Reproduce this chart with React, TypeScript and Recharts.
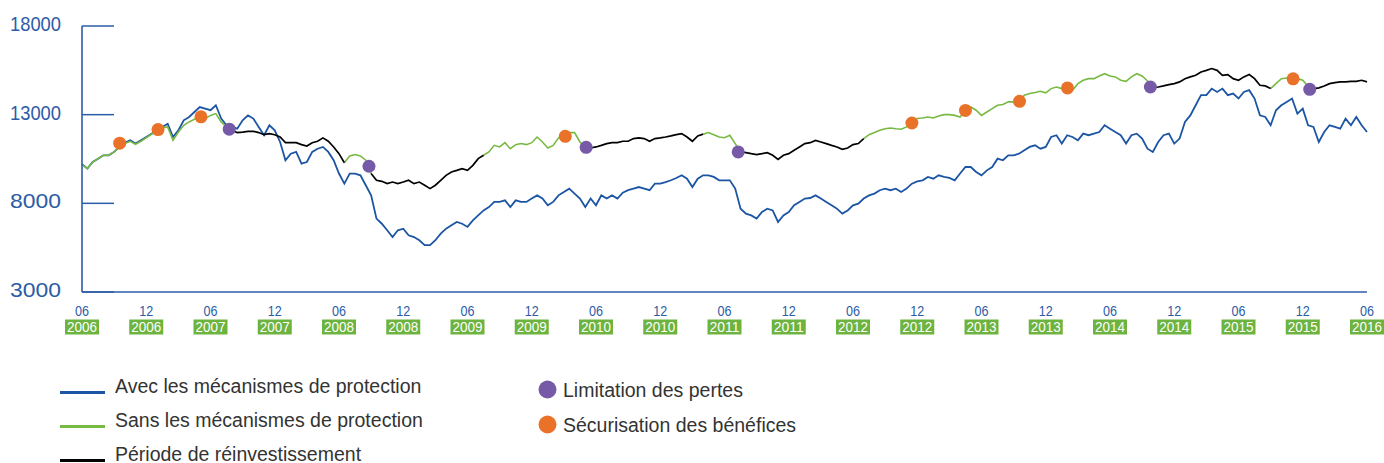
import React from "react";
import { ComposedChart, Line, Scatter, XAxis, YAxis } from "recharts";

// half-month steps from June 2006 (t = 0) to June 2016 (t = 120)
const blueValues = [
  10200, 9960, 10330, 10520, 10710, 10710, 10900, 11180, 11420, 11550,
  11370, 11550, 11740, 11930, 12120, 12310, 12490, 11740, 12120, 12680,
  12870, 13150, 13430, 13340, 13250, 13530, 12780, 12400, 12310, 12210,
  12680, 12960, 12780, 12310, 11840, 12400, 12120, 11460, 10430, 10800,
  10900, 10240, 10330, 10900, 11080, 11180, 10900, 10430, 9680, 9110,
  9680, 9680, 9580, 9020, 8450, 7140, 6850, 6480, 6100, 6480,
  6570, 6200, 6100, 5920, 5640, 5640, 5920, 6290, 6570, 6760,
  6950, 6850, 6670, 7040, 7320, 7600, 7790, 8080, 8080, 8170,
  7790, 8170, 8080, 8080, 8270, 8450, 8270, 7890, 8080, 8450,
  8640, 8830, 8550, 8270, 7790, 8270, 7890, 8450, 8270, 8450,
  8270, 8600, 8740, 8830, 8920, 8830, 8740, 9110, 9110, 9200,
  9300, 9430, 9580, 9390, 8920, 9390, 9580, 9580, 9490, 9300,
  9300, 9300, 8830, 7700, 7420, 7320, 7140, 7510, 7700, 7600,
  6950, 7320, 7510, 7890, 8080, 8270, 8300, 8450, 8270, 8080,
  7890, 7700, 7420, 7600, 7890, 7980, 8270, 8450, 8550, 8740,
  8830, 8740, 8830, 8640, 8830, 9110, 9240, 9300, 9490, 9390,
  9580, 9490, 9430, 9300, 9680, 10050, 10050, 9770, 9580, 9860,
  10050, 10520, 10430, 10710, 10710, 10800, 10990, 11180, 11270, 11080,
  11180, 11740, 11840, 11370, 11840, 11740, 11550, 11930, 11840, 11930,
  12020, 12400, 12210, 12020, 11840, 11370, 11840, 11930, 11650, 11080,
  10900, 11460, 11840, 11930, 11370, 11650, 12590, 12960, 13530, 14100,
  14100, 14470, 14280, 14470, 14100, 14190, 13910, 14280, 14380, 13910,
  12960, 12870, 12400, 13250, 13530, 13720, 13910, 13060, 13340, 12400,
  12310, 11460, 12020, 12400, 12310, 12210, 12780, 12400, 12870, 12400,
  12020,
];

const portfolioValues = [
  10200, 9960, 10330, 10520, 10710, 10710, 10900, 11180, 11380, 11500,
  11330, 11500, 11700, 11900, 12080, 12260, 12310, 11550, 12020, 12400,
  12590, 12740, 12870, 12780, 12960, 13060, 12590, 12310, 12120, 11990,
  12020, 12060, 12060, 11990, 11870, 11930, 11870, 11740, 11420, 11420,
  11420, 11310, 11230, 11420, 11500, 11690, 11500, 11180, 10800, 10290,
  10670, 10750, 10670, 10430, 9680, 9300, 9240, 9110, 9200, 9110,
  9200, 9300, 9110, 9200, 9020, 8830, 9020, 9300, 9580, 9770,
  9860, 9960, 9860, 10140, 10520, 10710, 10900, 11270, 11180, 11420,
  11080, 11310, 11370, 11310, 11420, 11740, 11460, 11120, 11270, 11690,
  11780, 11990, 11990, 11460, 11160, 11120, 11180, 11270, 11370, 11420,
  11420, 11500, 11500, 11650, 11690, 11650, 11500, 11650, 11690, 11740,
  11800, 11870, 11930, 11740, 11500, 11800, 11900, 11990, 11870, 11740,
  11700, 11840, 11370, 10900, 10860, 10800, 10750, 10800, 10860, 10710,
  10480, 10710, 10800, 10990, 11180, 11370, 11420, 11550, 11460, 11370,
  11270, 11180, 11050, 11120, 11310, 11370, 11650, 11870, 11990, 12120,
  12210, 12250, 12210, 12180, 12310, 12530, 12780, 12810, 12870, 12810,
  12930, 13000, 13000, 12960, 12870, 13230, 13430, 13250, 12960, 13150,
  13340, 13530, 13570, 13720, 13720, 13750, 14100, 14190, 14250, 14320,
  14230, 14470, 14560, 14470, 14520, 14380, 14750, 14940, 15030, 15030,
  15180, 15310, 15180, 15130, 14940, 14880, 15130, 15310, 15180, 14900,
  14510, 14560, 14620, 14690, 14750, 14850, 15030, 15130, 15220, 15410,
  15500, 15600, 15500, 15220, 15260, 15030, 14940, 15130, 15260, 15030,
  14660, 14620, 14470, 14750, 15030, 15070, 15030, 15030, 14940, 14600,
  14470, 14510, 14620, 14750, 14810, 14850, 14850, 14880, 14880, 14940,
  14850,
];

// months (from June 2006) during which the money sits in the reinvestment phase
const reinvestPeriods: [number, number][] = [
  [13.75, 24.5],
  [26.8, 37.9],
  [47.1, 58],
  [61.3, 73],
  [99.8, 111],
  [114.7, 120],
];

const lossMonths = [13.75, 26.8, 47.08, 61.28, 99.77, 114.65];
const lossValues = [12180, 10090, 11160, 10900, 14560, 14430];
const gainMonths = [3.52, 7.1, 11.11, 45.13, 77.5, 82.5, 87.55, 92.03, 113.1];
const gainValues = [11390, 12160, 12880, 11780, 12530, 13240, 13750, 14510, 15020];

const xTicks = [0, 6, 12, 18, 24, 30, 36, 42, 48, 54, 60, 66, 72, 78, 84, 90, 96, 102, 108, 114, 120];
const xTickMonths = ["06", "12", "06", "12", "06", "12", "06", "12", "06", "12", "06", "12", "06", "12", "06", "12", "06", "12", "06", "12", "06"];
const xTickYears = ["2006", "2006", "2007", "2007", "2008", "2008", "2009", "2009", "2010", "2010", "2011", "2011", "2012", "2012", "2013", "2013", "2014", "2014", "2015", "2015", "2016"];
const yTicks = [3000, 8000, 13000, 18000];

const lineLegend = [
  { label: "Avec les mécanismes de protection", color: "#1c55a3" },
  { label: "Sans les mécanismes de protection", color: "#78b943" },
  { label: "Période de réinvestissement", color: "#000000" },
];
const dotLegend = [
  { label: "Limitation des pertes", color: "#7659a7" },
  { label: "Sécurisation des bénéfices", color: "#ea7228" },
];

const AXIS_BLUE = "#2c5ca6";
// no condensed face is installed, so the axis numbers are squeezed with textLength
const NUM_FONT = "'Liberation Sans', Arial, sans-serif";
const TEXT_FONT = "'Liberation Sans', Arial, sans-serif";

const inReinvest = (t: number) => reinvestPeriods.some(([a, b]) => t >= a && t <= b);

const flags = portfolioValues.map((_, i) => inReinvest(i / 2));
const rows = blueValues.map((v, i) => {
  const black = flags[i];
  const touchesGreen = !black || (i > 0 && !flags[i - 1]) || (i < flags.length - 1 && !flags[i + 1]);
  return {
    t: i / 2,
    blue: v,
    green: touchesGreen ? portfolioValues[i] : null,
    black: black ? portfolioValues[i] : null,
  };
});

const lossData = lossMonths.map((t, i) => ({ t, v: lossValues[i] }));
const gainData = gainMonths.map((t, i) => ({ t, v: gainValues[i] }));

const XTick = (props: any) => {
  const { x, y, payload } = props;
  const i = xTicks.indexOf(payload.value);
  return (
    <g>
      <text
        x={x - 7}
        y={y + 24}
        textLength={14}
        lengthAdjust="spacingAndGlyphs"
        fill={AXIS_BLUE}
        fontSize={14.5}
        fontFamily={NUM_FONT}
      >
        {xTickMonths[i]}
      </text>
      <rect x={x - 17} y={y + 27.5} width={34} height={15} fill="#6db33f" />
      <text
        x={x - 15}
        y={y + 40}
        textLength={30}
        lengthAdjust="spacingAndGlyphs"
        fill="#ffffff"
        fontSize={15}
        fontFamily={NUM_FONT}
      >
        {xTickYears[i]}
      </text>
    </g>
  );
};

const YTick = (props: any) => {
  const { x, y, payload } = props;
  return (
    <g>
      <line x1={x} x2={x + 32} y1={y} y2={y} stroke={AXIS_BLUE} strokeWidth={1.5} />
      <text
        x={x - 72}
        y={y + 5}
        textLength={51}
        lengthAdjust="spacingAndGlyphs"
        fill={AXIS_BLUE}
        fontSize={20.5}
        fontFamily={NUM_FONT}
      >
        {payload.value}
      </text>
    </g>
  );
};

const Dot = (color: string) => (p: any) => <circle cx={p.cx} cy={p.cy} r={6.5} fill={color} />;

export default function App() {
  return (
    <div style={{ position: "absolute", left: 0, top: 0, width: 1384, height: 463, background: "#fff", overflow: "hidden" }}>
      <ComposedChart width={1384} height={342} data={rows} margin={{ top: 26, right: 17, bottom: 0, left: 0 }}>
        <XAxis
          dataKey="t"
          type="number"
          domain={[0, 120]}
          ticks={xTicks}
          interval={0}
          height={50}
          tickSize={0}
          tickMargin={0}
          tickLine={false}
          axisLine={{ stroke: AXIS_BLUE, strokeWidth: 1.6 }}
          tick={<XTick />}
        />
        <YAxis
          type="number"
          domain={[3000, 18000]}
          ticks={yTicks}
          width={82}
          tickSize={0}
          tickMargin={0}
          tickLine={false}
          axisLine={{ stroke: AXIS_BLUE, strokeWidth: 1.6 }}
          tick={<YTick />}
        />
        <Line dataKey="blue" stroke="#1c55a3" strokeWidth={1.8} dot={false} isAnimationActive={false} />
        <Line dataKey="green" stroke="#78b943" strokeWidth={1.6} dot={false} connectNulls={false} isAnimationActive={false} />
        <Line dataKey="black" stroke="#000000" strokeWidth={1.7} dot={false} connectNulls={false} isAnimationActive={false} />
        <Scatter data={gainData} dataKey="v" shape={Dot("#ea7228")} isAnimationActive={false} />
        <Scatter data={lossData} dataKey="v" shape={Dot("#7659a7")} isAnimationActive={false} />
      </ComposedChart>
      <svg width={1384} height={463} style={{ position: "absolute", left: 0, top: 0, pointerEvents: "none" }}>
        {lineLegend.map((item, i) => (
          <g key={item.label}>
            <line x1={60} x2={105} y1={392.5 + i * 34} y2={392.5 + i * 34} stroke={item.color} strokeWidth={3} />
            <text x={115} y={393 + i * 34} fontSize={19.5} fontFamily={TEXT_FONT} fill="#333333">
              {item.label}
            </text>
          </g>
        ))}
        {dotLegend.map((item, i) => (
          <g key={item.label}>
            <circle cx={547.5} cy={389.5 + i * 35} r={9} fill={item.color} />
            <text x={563} y={396.5 + i * 35} fontSize={19.5} fontFamily={TEXT_FONT} fill="#333333">
              {item.label}
            </text>
          </g>
        ))}
      </svg>
    </div>
  );
}
